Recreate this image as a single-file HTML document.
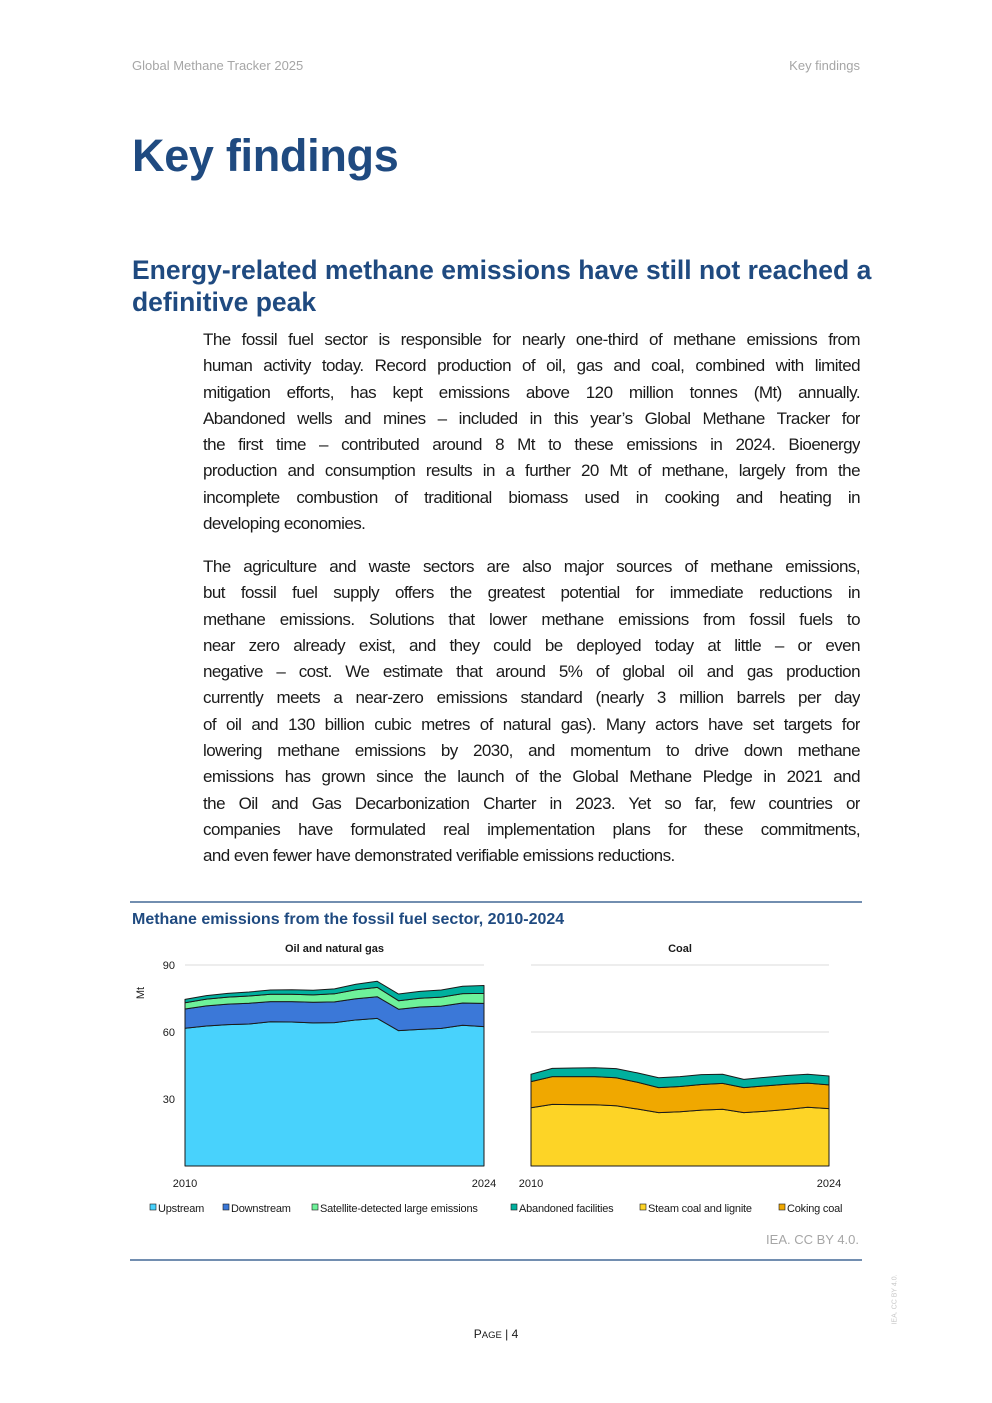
<!DOCTYPE html>
<html><head><meta charset="utf-8">
<style>
body{margin:0;background:#fff;font-family:"Liberation Sans",Arial,sans-serif;}
#page{position:relative;width:992px;height:1403px;overflow:hidden;}
.hdr{position:absolute;top:58px;font-size:13px;color:#a6a6a6;}
h1{position:absolute;left:132px;top:130px;margin:0;font-size:45px;font-weight:bold;color:#1f4a80;letter-spacing:-0.3px;}
h2{position:absolute;left:132px;top:254px;margin:0;font-size:26.5px;line-height:32px;font-weight:bold;color:#1f4a80;width:740px;}
.body{position:absolute;left:203px;width:657px;font-size:17px;color:#1a1a1a;letter-spacing:-0.55px;}
.ln{height:26.3px;line-height:26.3px;text-align:justify;text-align-last:justify;overflow:hidden;white-space:normal;}
.ln.last{text-align-last:left;}
</style></head><body>
<div id="page">
<div class="hdr" style="left:132px">Global Methane Tracker 2025</div>
<div class="hdr" style="right:132px">Key findings</div>
<h1>Key findings</h1>
<h2>Energy-related methane emissions have still not reached a definitive peak</h2>
<div class="body" style="top:327px">
<div class="ln">The fossil fuel sector is responsible for nearly one-third of methane emissions from</div>
<div class="ln">human activity today. Record production of oil, gas and coal, combined with limited</div>
<div class="ln">mitigation efforts, has kept emissions above 120 million tonnes (Mt) annually.</div>
<div class="ln">Abandoned wells and mines – included in this year’s Global Methane Tracker for</div>
<div class="ln">the first time – contributed around 8 Mt to these emissions in 2024. Bioenergy</div>
<div class="ln">production and consumption results in a further 20 Mt of methane, largely from the</div>
<div class="ln">incomplete combustion of traditional biomass used in cooking and heating in</div>
<div class="ln last">developing economies.</div>
</div>
<div class="body" style="top:554px">
<div class="ln">The agriculture and waste sectors are also major sources of methane emissions,</div>
<div class="ln">but fossil fuel supply offers the greatest potential for immediate reductions in</div>
<div class="ln">methane emissions. Solutions that lower methane emissions from fossil fuels to</div>
<div class="ln">near zero already exist, and they could be deployed today at little – or even</div>
<div class="ln">negative – cost. We estimate that around 5% of global oil and gas production</div>
<div class="ln">currently meets a near-zero emissions standard (nearly 3 million barrels per day</div>
<div class="ln">of oil and 130 billion cubic metres of natural gas). Many actors have set targets for</div>
<div class="ln">lowering methane emissions by 2030, and momentum to drive down methane</div>
<div class="ln">emissions has grown since the launch of the Global Methane Pledge in 2021 and</div>
<div class="ln">the Oil and Gas Decarbonization Charter in 2023. Yet so far, few countries or</div>
<div class="ln">companies have formulated real implementation plans for these commitments,</div>
<div class="ln last">and even fewer have demonstrated verifiable emissions reductions.</div>
</div>

<svg id="chart" width="992" height="1403" style="position:absolute;left:0;top:0" font-family="Liberation Sans, Arial, sans-serif">
<line x1="130" y1="902" x2="862" y2="902" stroke="#1f4a80" stroke-width="1.2"/>
<text x="132" y="924" font-size="16" font-weight="bold" fill="#1f4a80">Methane emissions from the fossil fuel sector, 2010-2024</text>
<line x1="130" y1="1260" x2="862" y2="1260" stroke="#1f4a80" stroke-width="1.2"/>
<text x="859" y="1244" font-size="13" fill="#a6a6a6" text-anchor="end">IEA. CC BY 4.0.</text>
<g id="plots"></g>
<g id="legend"></g>
</svg>
<div style="position:absolute;left:0;width:992px;top:1327px;text-align:center;font-size:12px;color:#1a1a1a">P<span style="font-size:9.5px">AGE</span> | 4</div>
<div style="position:absolute;left:870px;top:1296px;transform:rotate(-90deg);font-size:7px;color:#c8c8c8;white-space:nowrap">IEA. CC BY 4.0.</div>
</div>
<script>
const years = [2010,2011,2012,2013,2014,2015,2016,2017,2018,2019,2020,2021,2022,2023,2024];
const yTicks = [30,60,90];
const upstream = [61.7,62.7,63.3,63.6,64.6,64.5,64.1,64.2,65.4,66.1,60.6,61.2,61.6,63.0,62.4];
const downstream = [8.6,9.0,9.2,9.3,9.0,9.1,9.2,9.3,9.5,9.7,9.6,10.0,10.0,10.0,10.4];
const satellite = [2.8,3.0,3.1,3.2,3.3,3.3,3.3,3.6,4.0,4.2,3.8,3.9,4.0,4.2,4.5];
const abandonedOG = [1.5,1.6,1.7,1.8,1.9,2.0,2.1,2.2,2.5,2.7,3.0,3.1,3.2,3.3,3.5];
const steamCoal = [26.1,27.6,27.5,27.4,27.0,25.5,23.9,24.3,25.0,25.4,23.9,24.5,25.3,26.3,25.7];
const cokingCoal = [11.7,12.4,12.5,12.6,12.5,12.0,11.2,11.3,11.5,11.6,11.2,11.4,11.3,10.8,10.6];
const abandonedCoal = [3.3,3.7,3.9,4.0,4.1,4.2,4.4,4.4,4.4,4.1,3.7,3.8,3.9,4.0,4.0];
const legendLabels = ["Upstream","Downstream","Satellite-detected large emissions","Abandoned facilities","Steam coal and lignite","Coking coal"];

const NS="http://www.w3.org/2000/svg";
const C={up:"#48d2fc",down:"#3b78d8",sat:"#6ef29a",ab:"#00b09e",steam:"#fdd426",cok:"#f0a800"};
const Y0=1166, Y90=965;
const yScale=v=>Y0-(v/90)*(Y0-Y90);
function mk(tag,attrs,parent){const e=document.createElementNS(NS,tag);for(const k in attrs)e.setAttribute(k,attrs[k]);parent.appendChild(e);return e;}
const plots=document.getElementById('plots');

function panel(x0,x1,series,colors,names,title,showY,pname){
  const g=mk('g',{},plots);
  
  
  const xScale=yr=>x0+(yr-years[0])/(years[years.length-1]-years[0])*(x1-x0);
  yTicks.forEach(t=>{
    if(t>0){const l=mk('line',{x1:x0,x2:x1,y1:yScale(t),y2:yScale(t),stroke:"#e2e2e2","stroke-width":1.2},g);
    
    }
    if(showY){const tx=mk('text',{x:x0-10,y:yScale(t)+4,"font-size":11,"text-anchor":"end",fill:"#1a1a1a"},g);tx.textContent=t;
    
    }
  });
  let base=years.map(()=>0);
  series.forEach((s,i)=>{
    const top=base.map((b,j)=>b+s[j]);
    let d="M"+years.map((yr,j)=>xScale(yr)+","+yScale(top[j])).join(" L");
    for(let j=years.length-1;j>=0;j--) d+=" L"+xScale(years[j])+","+yScale(base[j]);
    d+="Z";
    const p=mk('path',{d:d,fill:colors[i],stroke:"#1a1a1a","stroke-width":1,"stroke-linejoin":"round"},g);
    
    
    base=top;
  });
  const t=mk('text',{x:(x0+x1)/2,y:952,"font-size":11,"font-weight":"bold","text-anchor":"middle",fill:"#1a1a1a"},g);t.textContent=title;
  
  
  [years[0],years[years.length-1]].forEach(yr=>{
    const tx=mk('text',{x:xScale(yr),y:1187,"font-size":11,"text-anchor":"middle",fill:"#1a1a1a"},g);tx.textContent=yr;
    
    
  });
}
panel(185,484,[upstream,downstream,satellite,abandonedOG],[C.up,C.down,C.sat,C.ab],["upstream","downstream","satellite","abandoned"],"Oil and natural gas",true,"oil-gas-panel");
panel(531,829,[steamCoal,cokingCoal,abandonedCoal],[C.steam,C.cok,C.ab],["steam-coal","coking-coal","abandoned"],"Coal",false,"coal-panel");
const yt=mk('text',{x:0,y:0,"font-size":11,fill:"#1a1a1a","text-anchor":"middle",transform:"translate(144,993) rotate(-90)"},plots);yt.textContent="Mt";



const lg=document.getElementById('legend');
const lcol=[C.up,C.down,C.sat,C.ab,C.steam,C.cok];
const lx=[150,223,312,511,640,779];
legendLabels.forEach((lab,i)=>{
  const g=mk('g',{},lg);
  
  
  mk('rect',{x:lx[i],y:1204,width:6,height:6,fill:lcol[i],stroke:"#1a1a1a","stroke-width":0.6},g);
  const t=mk('text',{x:lx[i]+8,y:1212,"font-size":11,fill:"#1a1a1a","letter-spacing":"-0.2"},g);t.textContent=lab;
});
</script>
</body></html>
